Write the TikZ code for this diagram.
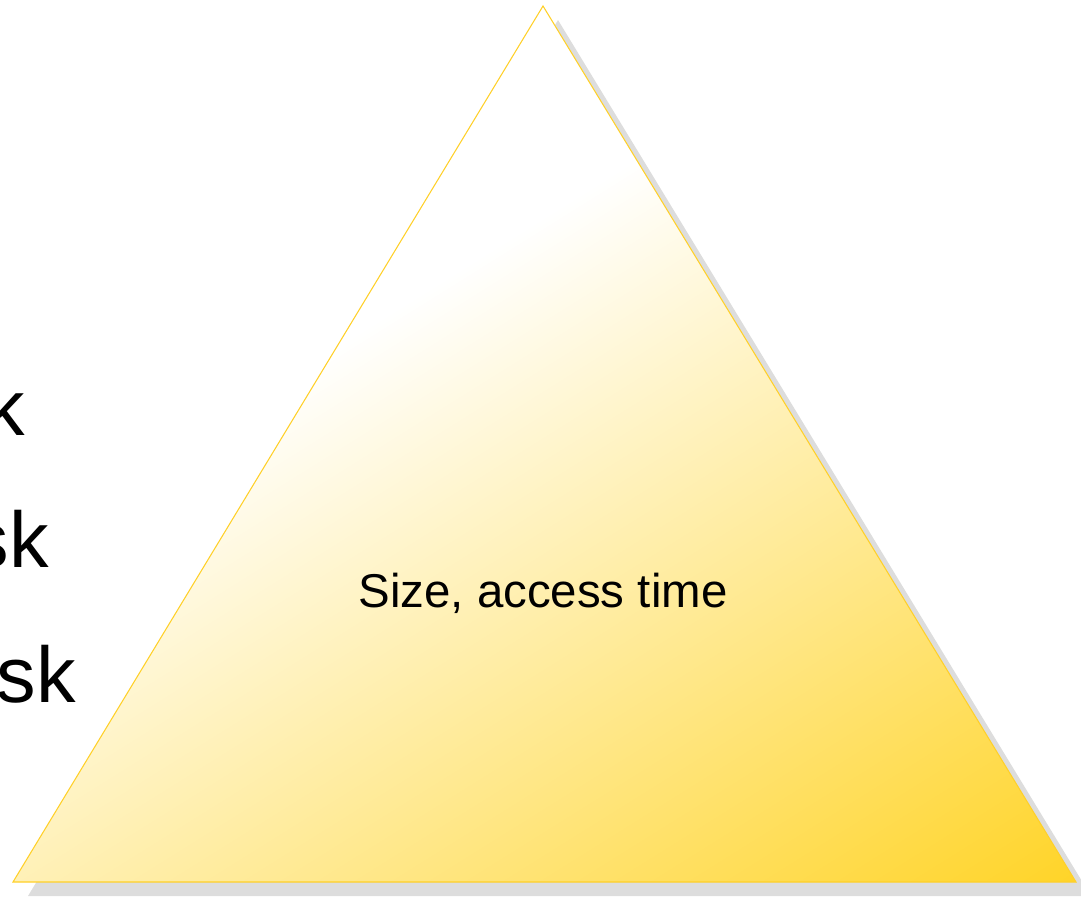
\documentclass[tikz,border=0pt]{standalone}
\usepackage{fontspec}
\setmainfont{Liberation Sans}
\usepackage{xcolor}
\usetikzlibrary{positioning,calc}

\definecolor{pyrgold}{RGB}{255,212,40}
\definecolor{pyredge}{RGB}{255,208,40}
\definecolor{pyrshadow}{RGB}{221,221,221}

% white on the upper left, gold on the lower right
\pgfdeclarehorizontalshading{pyrfade}{800bp}{color(0bp)=(white); color(126bp)=(white); color(606bp)=(pyrgold); color(624bp)=(pyrgold)}

\begin{document}
\begin{tikzpicture}[
  x=0.02cm, y=-0.02cm,
  edge/.style={draw=pyredge, line width=0.6pt, line join=miter},
  shadow/.style={fill=pyrshadow, draw=none},
  bigword/.style={font=\fontsize{45}{48}\selectfont, inner sep=0pt, anchor=base east},
  label/.style={font=\fontsize{27}{30}\selectfont, inner sep=0pt, anchor=base},
]
\useasboundingbox (0,0) rectangle (1081,896);

% corners of the pyramid
\coordinate (apex) at (543,6);
\coordinate (bl) at (13,882);
\coordinate (br) at (1076,882);

% shadow
\fill[shadow] ($(apex)+(15,14)$) -- ($(br)+(15,14)$) -- ($(bl)+(15,14)$) -- cycle;

% pyramid fill
\begin{scope}
  \clip (apex) -- (br) -- (bl) -- cycle;
  \node[inner sep=0pt, outer sep=0pt, rotate=-58] (fade) at (616,558) {\pgfuseshading{pyrfade}};
\end{scope}
\draw[edge] (apex) -- (br) -- (bl) -- cycle;

\node[label] (size) at (543,607) {Size, access time};

% words cut at the left edge
\node[bigword] (w1) at (25,435) {k};
\node[bigword] (w2) at (49,567) {sk};
\node[bigword] (w3) at (76,702) {sk};

\end{tikzpicture}
\end{document}
